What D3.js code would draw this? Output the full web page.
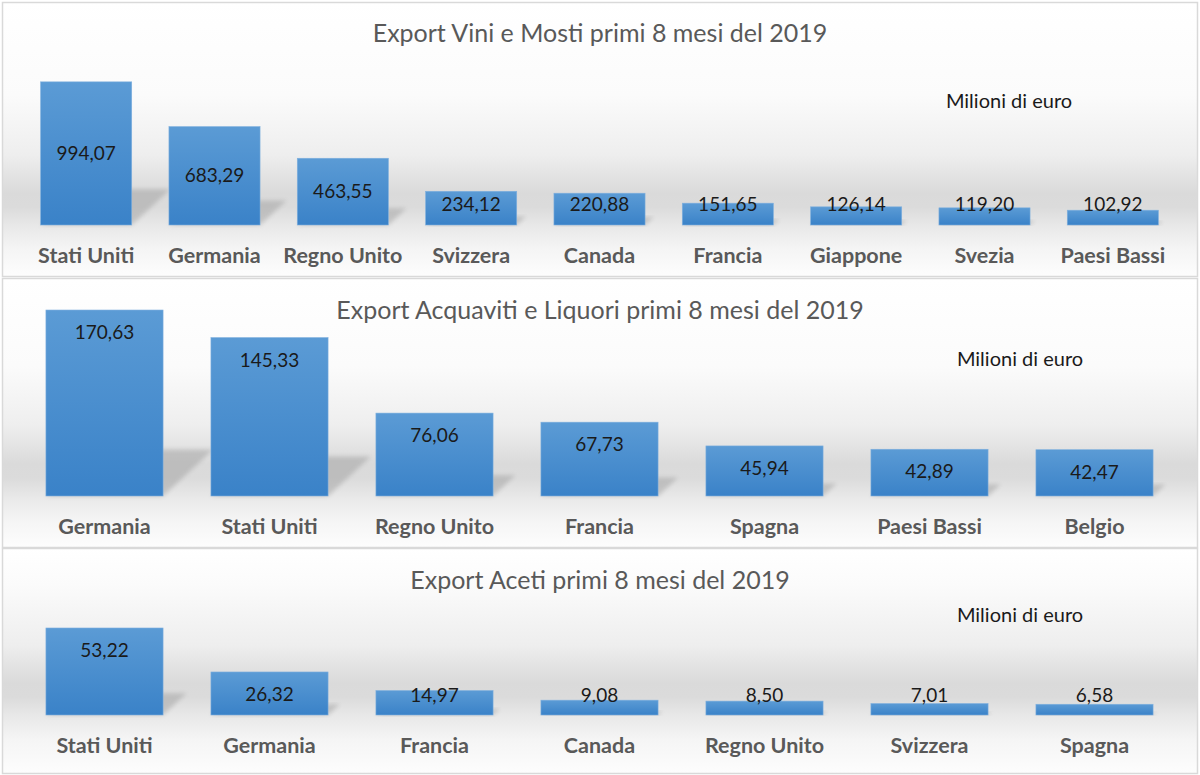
<!DOCTYPE html>
<html><head><meta charset="utf-8">
<script src="https://cdn.jsdelivr.net/npm/d3@7"></script>
<style>
html,body{margin:0;padding:0;background:#fff;}
svg{display:block;font-family:Lato,"Open Sans",sans-serif;}
</style></head>
<body><svg id="c" width="1200" height="775"></svg>
<script>
// ---- data ----
const titles = [
  "Export Vini e Mosti primi 8 mesi del 2019",
  "Export Acquaviti e Liquori primi 8 mesi del 2019",
  "Export Aceti primi 8 mesi del 2019"
];
const unitLabel = "Milioni di euro";
const viniCategories = ["Stati Uniti","Germania","Regno Unito","Svizzera","Canada","Francia","Giappone","Svezia","Paesi Bassi"];
const viniValues = [994.07,683.29,463.55,234.12,220.88,151.65,126.14,119.20,102.92];
const acquavitiCategories = ["Germania","Stati Uniti","Regno Unito","Francia","Spagna","Paesi Bassi","Belgio"];
const acquavitiValues = [170.63,145.33,76.06,67.73,45.94,42.89,42.47];
const acetiCategories = ["Stati Uniti","Germania","Francia","Canada","Regno Unito","Svizzera","Spagna"];
const acetiValues = [53.22,26.32,14.97,9.08,8.50,7.01,6.58];

// ---- layout ----
const panels = [
  {cats: viniCategories, vals: viniValues, title: titles[0], y0: 2, h: 274, base: 225, top: 81, max: 1000,
   titleY: 33, unitX: 1009, unitY: 101, catY: 255, labelMode: "center"},
  {cats: acquavitiCategories, vals: acquavitiValues, title: titles[1], y0: 278, h: 269, base: 496, top: 299.8, max: 180,
   titleY: 310, unitX: 1020, unitY: 359, catY: 526, labelMode: "end"},
  {cats: acetiCategories, vals: acetiValues, title: titles[2], y0: 548, h: 225, base: 715, top: 616.9, max: 60,
   titleY: 580, unitX: 1020, unitY: 615, catY: 745, labelMode: "end"}
];

const svg = d3.select("#c");
const defs = svg.append("defs");
defs.append("filter").attr("id","blur").attr("x","-20%").attr("y","-20%").attr("width","140%").attr("height","140%")
  .append("feGaussianBlur").attr("stdDeviation", 2);
const barGrad = defs.append("linearGradient").attr("id","barg").attr("x1",0).attr("y1",0).attr("x2",0).attr("y2",1);
barGrad.append("stop").attr("offset","0%").attr("stop-color","#5b9bd5");
barGrad.append("stop").attr("offset","100%").attr("stop-color","#3a82c8");

panels.forEach((p, i) => {
  const g = svg.append("g");
  const bg = defs.append("linearGradient").attr("id","bg"+i).attr("gradientUnits","userSpaceOnUse")
    .attr("x1",0).attr("x2",0).attr("y1",p.y0).attr("y2",p.y0+p.h);
  const rel = y => Math.max(0, Math.min(1, (y - p.y0) / p.h));
  [[p.y0,"#ffffff"],[p.base-130,"#fbfbfb"],[p.base-70,"#eeeeee"],[p.base-32,"#dadada"],[p.base-18,"#dbdbdb"],
   [p.base+2,"#e9e9e9"],[p.base+25,"#f5f5f5"],[p.y0+p.h,"#fdfdfd"]]
    .forEach(([y,c]) => bg.append("stop").attr("offset", rel(y)).attr("stop-color", c));
  g.append("rect").attr("x",2.5).attr("y",p.y0+0.5).attr("width",1195).attr("height",p.h)
    .attr("fill","url(#bg"+i+")").attr("stroke","#d9d9d9").attr("stroke-width",1.5);

  const x = d3.scaleBand().domain(p.cats).range([22,1177]).paddingInner(0.29).paddingOuter(0.145);
  const y = d3.scaleLinear().domain([0,p.max]).range([p.base,p.top]);
  const data = p.cats.map((c,k) => ({c, v: p.vals[k]}));

  // shadows
  g.selectAll("path.sh").data(data).join("path").attr("class","sh")
    .attr("d", d => {
      const x0 = x(d.c), x1 = x0 + x.bandwidth(), hh = p.base - y(d.v);
      const sh = hh*0.25, s = hh*0.27;
      return `M${x0},${p.base}L${x1},${p.base}L${x1+s},${p.base-sh}L${x0+s},${p.base-sh}Z`;
    })
    .attr("fill","#9a9a9a").attr("opacity",0.45).attr("filter","url(#blur)");

  // bars
  g.selectAll("rect.bar").data(data).join("rect").attr("class","bar")
    .attr("x", d => x(d.c)).attr("width", x.bandwidth())
    .attr("y", d => y(d.v)).attr("height", d => p.base - y(d.v))
    .attr("fill","url(#barg)").attr("stroke","#7fb0de").attr("stroke-width",0.6);

  // value labels
  g.selectAll("text.val").data(data).join("text").attr("class","val")
    .attr("x", d => x(d.c) + x.bandwidth()/2)
    .attr("y", d => {
      const t = y(d.v);
      return p.labelMode === "center" ? Math.min((t + p.base)/2, p.base - 21) : Math.min(t + 22.5, p.base - 20);
    })
    .attr("dy","0.35em").attr("text-anchor","middle")
    .attr("font-size",19).attr("fill","#1a1a1a")
    .text(d => d.v.toFixed(2).replace(".", ","));

  // category axis labels
  const ax = g.append("g").attr("transform",`translate(0,${p.catY})`)
    .call(d3.axisBottom(x).tickSize(0).tickPadding(0));
  ax.select(".domain").remove();
  ax.selectAll("text").attr("dy","0.35em").attr("font-size",21.5).attr("font-weight","bold")
    .attr("fill","#595959").attr("font-family","Lato,'Open Sans',sans-serif");

  g.append("text").attr("x",600).attr("y",p.titleY).attr("dy","0.35em").attr("text-anchor","middle")
    .attr("font-size",25).attr("fill","#595959").text(p.title);
  g.append("text").attr("x",p.unitX).attr("y",p.unitY).attr("dy","0.35em").attr("text-anchor","middle")
    .attr("font-size",20).attr("fill","#1a1a1a").text(unitLabel);
});
</script></body></html>
